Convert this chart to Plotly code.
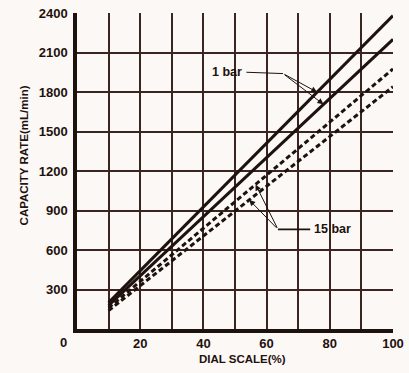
import numpy as np
import plotly.graph_objects as go

# ---- data ----
dial_scale = [10, 100]                      # DIAL SCALE (%)
solid_1bar_hi = [200, 2380]                 # 1 bar, upper solid line
solid_1bar_lo = [180, 2200]                 # 1 bar, lower solid line
dash_15bar_hi = [160, 1975]                 # 15 bar, upper dashed line
dash_15bar_lo = [140, 1840]                 # 15 bar, lower dashed line

x_tick_vals = [10, 20, 30, 40, 50, 60, 70, 80, 90, 100]
x_tick_text = ["", "20", "", "40", "", "60", "", "80", "", "100"]
y_tick_vals = [300, 600, 900, 1200, 1500, 1800, 2100, 2400]
y_tick_text = ["300", "600", "900", "1200", "1500", "1800", "2100", "2400"]

BG = "#fcf8f5"
INK = "#1e120e"
GRID = "#3a2520"
FONT = "Liberation Sans"

fig = go.Figure()
for ys, dash in [(solid_1bar_hi, "solid"), (solid_1bar_lo, "solid"),
                 (dash_15bar_hi, "5px,3px"), (dash_15bar_lo, "5px,3px")]:
    fig.add_trace(go.Scatter(x=dial_scale, y=ys, mode="lines",
                             line=dict(color=INK, width=3, dash=dash),
                             showlegend=False, hoverinfo="skip"))

def on_line(xv, ys):
    return float(np.interp(xv, dial_scale, ys))

tfont = dict(family=FONT, size=12.5, color=INK, weight="bold")

# "1 bar" label with leader lines
fig.add_annotation(x=47.5, y=1950, text="1 bar", showarrow=False, font=tfont)
fig.add_shape(type="line", x0=53.6, y0=1950, x1=65.2, y1=1940,
              line=dict(color=INK, width=1))
for xt, ys in [(76.0, solid_1bar_hi), (78.0, solid_1bar_lo)]:
    fig.add_annotation(x=xt, y=on_line(xt, ys), ax=65.2, ay=1940,
                       axref="x", ayref="y", xref="x", yref="y", text="",
                       showarrow=True, arrowhead=2, arrowsize=1.2,
                       arrowwidth=1, arrowcolor=INK)

# "15 bar" label with leader lines
fig.add_annotation(x=80.8, y=757, text="15 bar", showarrow=False, font=tfont)
fig.add_shape(type="line", x0=63.6, y0=757, x1=73.8, y1=757,
              line=dict(color=INK, width=1.6))
for xt, ys in [(54.5, dash_15bar_lo), (56.5, dash_15bar_hi)]:
    fig.add_annotation(x=xt, y=on_line(xt, ys), ax=63.6, ay=757,
                       axref="x", ayref="y", xref="x", yref="y", text="",
                       showarrow=True, arrowhead=2, arrowsize=1.2,
                       arrowwidth=1, arrowcolor=INK)

# shared origin label "0"
fig.add_annotation(xref="paper", yref="paper", x=-0.044, y=-0.043,
                   text="0", showarrow=False, yanchor="middle", xanchor="center",
                   font=dict(family=FONT, size=13, color=INK, weight="bold"))

tick_font = dict(family=FONT, size=13, color=INK, weight="bold")
title_font = dict(family=FONT, size=11.5, color=INK, weight="bold")

# axis titles
fig.add_annotation(xref="paper", yref="paper", x=0.524, y=-0.095,
                   text="DIAL SCALE(%)", showarrow=False,
                   xanchor="center", yanchor="middle", font=title_font)
fig.add_annotation(xref="paper", yref="paper", x=-0.167, y=0.55,
                   text="CAPACITY RATE(mL/min)", showarrow=False, textangle=-90,
                   xanchor="center", yanchor="middle", font=title_font)

fig.update_xaxes(range=[0, 100], tickvals=x_tick_vals, ticktext=x_tick_text,
                 showgrid=True, gridcolor=GRID, gridwidth=2,
                 showline=True, linecolor=INK, linewidth=3.5,
                 ticks="", tickfont=tick_font, zeroline=False, automargin=False)
fig.update_yaxes(range=[0, 2400], tickvals=y_tick_vals, ticktext=y_tick_text,
                 showgrid=True, gridcolor=GRID, gridwidth=2,
                 showline=True, linecolor=INK, linewidth=3.5,
                 ticks="outside", ticklen=3, tickcolor="rgba(0,0,0,0)",
                 tickfont=tick_font, zeroline=False, automargin=False)

fig.update_layout(width=409, height=373,
                  margin=dict(l=77, r=16, t=13, b=44),
                  paper_bgcolor=BG, plot_bgcolor=BG,
                  showlegend=False, hovermode=False)

fig.write_html("out.html", config={"displayModeBar": False},
               post_script="document.body.style.margin='0';"
                           "document.body.style.background='%s';" % BG)
